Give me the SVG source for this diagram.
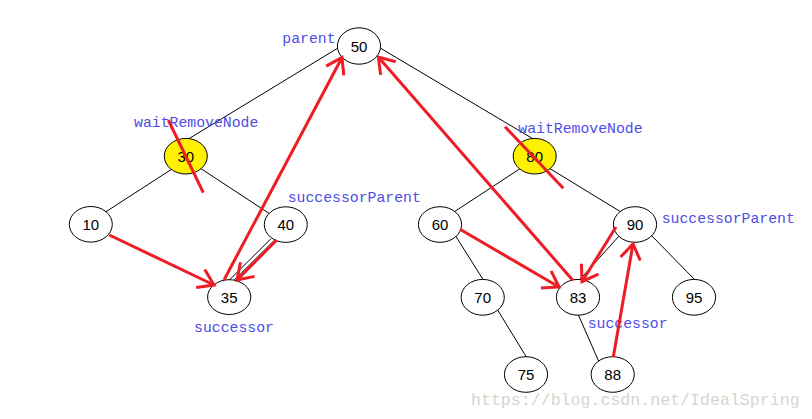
<svg xmlns="http://www.w3.org/2000/svg" width="812" height="419" viewBox="0 0 812 419">
<style>
.edge{stroke:#000;stroke-width:1;fill:none}
.node ellipse{fill:#fff;stroke:#000;stroke-width:1}
.node.del ellipse{fill:#fff200}
.node text{font-family:"Liberation Sans",Arial,sans-serif;font-size:15px;fill:#000;text-anchor:middle}
.lbl{font-family:"Liberation Mono","Courier New",monospace;font-size:14.8px;fill:#4d4de6}
.red{stroke:#ee1c24;stroke-width:3;fill:none}
.arr{marker-end:url(#ah)}
.wm{font-family:"Liberation Mono","Courier New",monospace;font-size:16.6px;fill:#d6d6cf}
</style>
<defs>
<marker id="ah" markerUnits="userSpaceOnUse" markerWidth="40" markerHeight="40" refX="0" refY="0" orient="auto" overflow="visible">
<path d="M-15,-10 L0,0 L-15,10" fill="none" stroke="#ee1c24" stroke-width="3"/>
</marker>
</defs>
<rect width="812" height="419" fill="#fff"/>
<g id="connectors">
<line class="edge" x1="337.5" y1="48.3" x2="186.7" y2="140"/>
<line class="edge" x1="380.7" y1="48.3" x2="535" y2="140"/>
<line class="edge" x1="172" y1="169" x2="104" y2="213"/>
<line class="edge" x1="200" y1="168" x2="270" y2="214"/>
<line class="edge" x1="270.7" y1="239" x2="228.3" y2="281"/>
<line class="edge" x1="274" y1="240.7" x2="233.3" y2="281"/>
<line class="edge" x1="521" y1="168" x2="454" y2="212"/>
<line class="edge" x1="549" y1="168" x2="621" y2="212"/>
<line class="edge" x1="455" y1="235" x2="484" y2="281"/>
<line class="edge" x1="651" y1="235" x2="696" y2="281"/>
<line class="edge" x1="620" y1="235" x2="577.5" y2="282"/>
<line class="edge" x1="497" y1="309" x2="527" y2="358"/>
<line class="edge" x1="577.5" y1="313" x2="599" y2="362"/>
</g>
<g id="n50" class="node"><ellipse cx="359" cy="46" rx="21.6" ry="18.2"/><text x="359" y="51.5">50</text></g>
<g id="n30" class="node del"><ellipse cx="185.8" cy="156.2" rx="21.5" ry="17.8"/><text x="185.8" y="161.7">30</text></g>
<g id="n10" class="node"><ellipse cx="90.8" cy="224.3" rx="21.5" ry="17.8"/><text x="90.8" y="229.8">10</text></g>
<g id="n40" class="node"><ellipse cx="285.8" cy="224.6" rx="21.5" ry="17.8"/><text x="285.8" y="230.1">40</text></g>
<g id="n35" class="node"><ellipse cx="229.2" cy="297.1" rx="21.6" ry="17.4"/><text x="229.2" y="302.6">35</text></g>
<g id="n80" class="node del"><ellipse cx="534.7" cy="156.2" rx="21.5" ry="17.8"/><text x="534.7" y="161.7">80</text></g>
<g id="n60" class="node"><ellipse cx="440" cy="224.5" rx="21.6" ry="17.8"/><text x="440" y="230">60</text></g>
<g id="n90" class="node"><ellipse cx="635" cy="224.5" rx="21.6" ry="17.8"/><text x="635" y="230">90</text></g>
<g id="n70" class="node"><ellipse cx="482.7" cy="297.3" rx="21.6" ry="17.9"/><text x="482.7" y="302.8">70</text></g>
<g id="n83" class="node"><ellipse cx="578" cy="297.3" rx="21.6" ry="17.9"/><text x="578" y="302.8">83</text></g>
<g id="n95" class="node"><ellipse cx="694" cy="297.3" rx="21.6" ry="17.9"/><text x="694" y="302.8">95</text></g>
<g id="n75" class="node"><ellipse cx="526" cy="374.5" rx="21.6" ry="17.8"/><text x="526" y="380">75</text></g>
<g id="n88" class="node"><ellipse cx="612.7" cy="374.5" rx="21.6" ry="17.8"/><text x="612.7" y="380">88</text></g>
<g id="labels">
<text class="lbl" x="282.3" y="43">parent</text>
<text class="lbl" x="134" y="127">waitRemoveNode</text>
<text class="lbl" x="287.7" y="202">successorParent</text>
<text class="lbl" x="194" y="331.5">successor</text>
<text class="lbl" x="518.3" y="132.8">waitRemoveNode</text>
<text class="lbl" x="661.7" y="222.8">successorParent</text>
<text class="lbl" x="587.7" y="327.5">successor</text>
<text class="wm" x="471" y="405">https://blog.csdn.net/IdealSpring</text>
</g>
<g id="red-marks">
<line class="red" x1="168.3" y1="120" x2="203.3" y2="192.7"/>
<line class="red" x1="505" y1="126.7" x2="563.3" y2="188.3"/>
<line class="red arr" x1="109.3" y1="235" x2="214" y2="285"/>
<line class="red arr" x1="276.7" y1="240" x2="237" y2="280"/>
<line class="red arr" x1="224" y1="280" x2="342" y2="57.5"/>
<line class="red arr" x1="460" y1="229.3" x2="559" y2="287"/>
<line class="red arr" x1="573" y1="280.5" x2="378.3" y2="57"/>
<line class="red arr" x1="616" y1="227" x2="582" y2="281.7"/>
<line class="red arr" x1="613.3" y1="357" x2="633" y2="244"/>
</g>
</svg>
